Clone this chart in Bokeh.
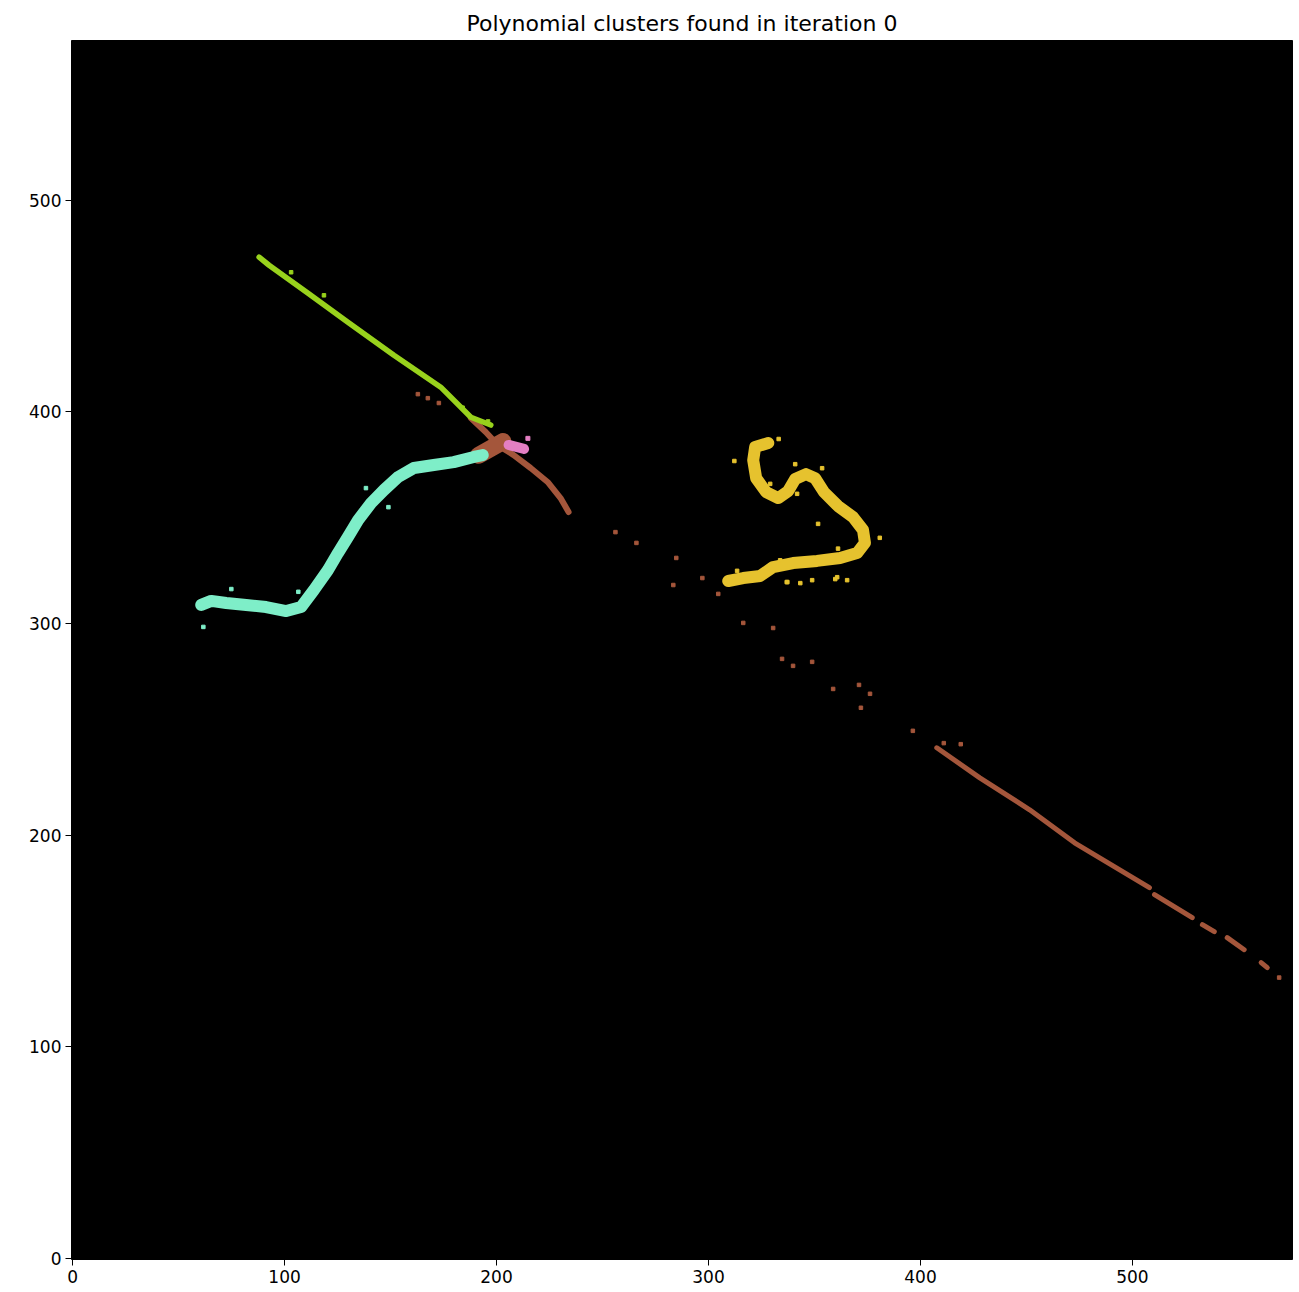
from bokeh.plotting import figure
from bokeh.models import FixedTicker, Range1d
from bokeh.embed import file_html
from bokeh.resources import INLINE

# Image extent (pixel centres 0..575)
x_extent = [-0.5, 575.5]
y_extent = [-0.5, 575.5]
ticks = [0, 100, 200, 300, 400, 500]

# Cluster centre lines, in image coordinates
green_x = [88.0, 92.7, 111.1, 129.9, 151.6, 173.7, 187.9, 197.3]
green_y = [473.1, 469.3, 456.1, 442.4, 426.8, 411.7, 397.5, 393.8]

cyan_x = [60.7, 65.4, 72.5, 81.9, 91.3, 100.8, 107.8, 113.9, 120.5, 125.2,
          129.9, 134.7, 140.8, 146.9, 153.5, 161.0, 170.4, 179.8, 189.3, 193.5]
cyan_y = [308.8, 310.7, 309.7, 308.8, 307.8, 305.9, 307.8, 315.9, 325.3, 333.3,
          340.9, 348.9, 356.9, 363.1, 369.2, 373.5, 374.9, 376.3, 378.7, 379.6]

yellow_x = [328.2, 322.0, 321.1, 322.5, 327.2, 332.9, 337.6, 340.9, 346.0, 350.3,
            354.5, 361.1, 368.2, 372.9, 373.8, 370.1, 362.1, 351.2, 339.9, 330.5,
            324.4, 316.4, 309.3]
yellow_y = [385.3, 383.4, 377.2, 368.7, 362.1, 359.3, 362.6, 368.3, 370.6, 368.7,
            362.1, 355.5, 350.3, 344.2, 338.1, 333.3, 331.0, 329.6, 328.6, 326.7,
            322.5, 321.5, 320.1]

pink_x = [205.7, 213.0]
pink_y = [384.4, 382.5]

# Brown cluster: short arm near the crossing, then the long lower arm in pieces
brown_arm_x = [187.9, 194.9, 200.6, 208.1, 216.1, 224.1, 230.2, 234.0]
brown_arm_y = [397.1, 390.5, 384.3, 379.6, 373.5, 366.9, 359.3, 352.7]
brown_blob_x = [191.5, 203.0]
brown_blob_y = [379.5, 386.0]
brown_segs_x = [[407.7, 428.0, 451.5, 472.7, 508.0], [510.4, 528.2],
                [533.0, 538.6], [544.7, 552.7], [560.7, 563.6]]
brown_segs_y = [[241.3, 227.1, 212.0, 196.4, 175.2], [171.9, 161.0],
                [157.7, 154.4], [151.6, 145.9], [139.8, 137.4]]
brown_dots_x = [256.1, 266.0, 284.8, 297.1, 283.4, 304.6, 316.4, 330.5, 334.7,
                339.9, 348.9, 358.8, 371.0, 376.2, 371.9, 396.4, 162.9, 167.6,
                172.8, 569.2, 411.0, 419.0]
brown_dots_y = [343.2, 338.1, 331.0, 321.5, 318.2, 314.0, 300.3, 297.9, 283.3,
                280.0, 281.9, 269.1, 271.0, 266.8, 260.2, 249.3, 408.4, 406.5,
                404.2, 132.7, 243.5, 243.0]

# Loose pixels around the thicker clusters
yellow_dots_x = [333.1, 312.2, 340.9, 353.6, 329.1, 341.8, 351.7, 380.8, 361.1,
                 333.8, 343.3, 337.2, 360.7, 365.4, 313.5, 336.9, 348.9, 359.8]
yellow_dots_y = [387.2, 376.8, 375.3, 373.4, 366.0, 361.3, 347.1, 340.5, 335.4,
                 329.9, 319.1, 319.6, 321.9, 320.5, 324.9, 319.6, 320.5, 321.0]
cyan_dots_x = [74.9, 61.7, 138.4, 106.5, 149.0]
cyan_dots_y = [316.3, 298.4, 364.0, 315.0, 355.0]
green_dots_x = [103.1, 118.6, 184.0, 196.0]
green_dots_y = [466.0, 455.1, 402.0, 395.5]
pink_dots_x = [214.8]
pink_dots_y = [387.5]

GREEN = "#98d21c"
CYAN = "#7eeec8"
YELLOW = "#e6c22e"
BROWN = "#a4563b"
PINK = "#e47fc3"

p = figure(width=1299, height=1292, output_backend="svg", toolbar_location=None,
           title="Polynomial clusters found in iteration 0",
           x_range=Range1d(*x_extent), y_range=Range1d(*y_extent),
           min_border_left=71, min_border_right=7, min_border_top=40,
           min_border_bottom=33)

p.background_fill_color = "black"
p.border_fill_color = "white"
p.outline_line_color = "black"
p.grid.visible = False

p.title.align = "center"
p.title.text_font = "DejaVu Sans"
p.title.text_font_size = "22px"
p.title.text_font_style = "normal"
p.title.text_color = "black"

for ax in (p.xaxis, p.yaxis):
    ax.ticker = FixedTicker(ticks=ticks)
    ax.major_label_text_font = "DejaVu Sans"
    ax.major_label_text_font_size = "17px"
    ax.major_label_text_color = "black"
    ax.axis_line_color = None
    ax.major_tick_line_color = "black"
    ax.major_tick_out = 6
    ax.major_tick_in = 0
    ax.minor_tick_line_color = None
p.xaxis.major_label_standoff = 4
p.yaxis.major_label_standoff = 4

# brown cluster
p.multi_line(brown_segs_x, brown_segs_y, line_color=BROWN, line_width=5,
             line_cap="round", line_join="round")
p.line(brown_arm_x, brown_arm_y, line_color=BROWN, line_width=6,
       line_cap="round", line_join="round")
p.line(brown_blob_x, brown_blob_y, line_color=BROWN, line_width=17,
       line_cap="round")
p.scatter(brown_dots_x, brown_dots_y, size=3.5, color=BROWN, marker="square")

# cyan cluster
p.line(cyan_x, cyan_y, line_color=CYAN, line_width=12, line_cap="round",
       line_join="round")
p.scatter(cyan_dots_x, cyan_dots_y, size=3.5, color=CYAN, marker="square")

# green cluster
p.line(green_x, green_y, line_color=GREEN, line_width=5.5, line_cap="round",
       line_join="round")
p.scatter(green_dots_x, green_dots_y, size=3.5, color=GREEN, marker="square")

# yellow cluster
p.line(yellow_x, yellow_y, line_color=YELLOW, line_width=12, line_cap="round",
       line_join="round")
p.scatter(yellow_dots_x, yellow_dots_y, size=3.5, color=YELLOW, marker="square")

# pink cluster
p.line(pink_x, pink_y, line_color=PINK, line_width=10, line_cap="round")
p.scatter(pink_dots_x, pink_dots_y, size=4, color=PINK, marker="square")

open("out.html", "w").write(file_html(p, INLINE))
